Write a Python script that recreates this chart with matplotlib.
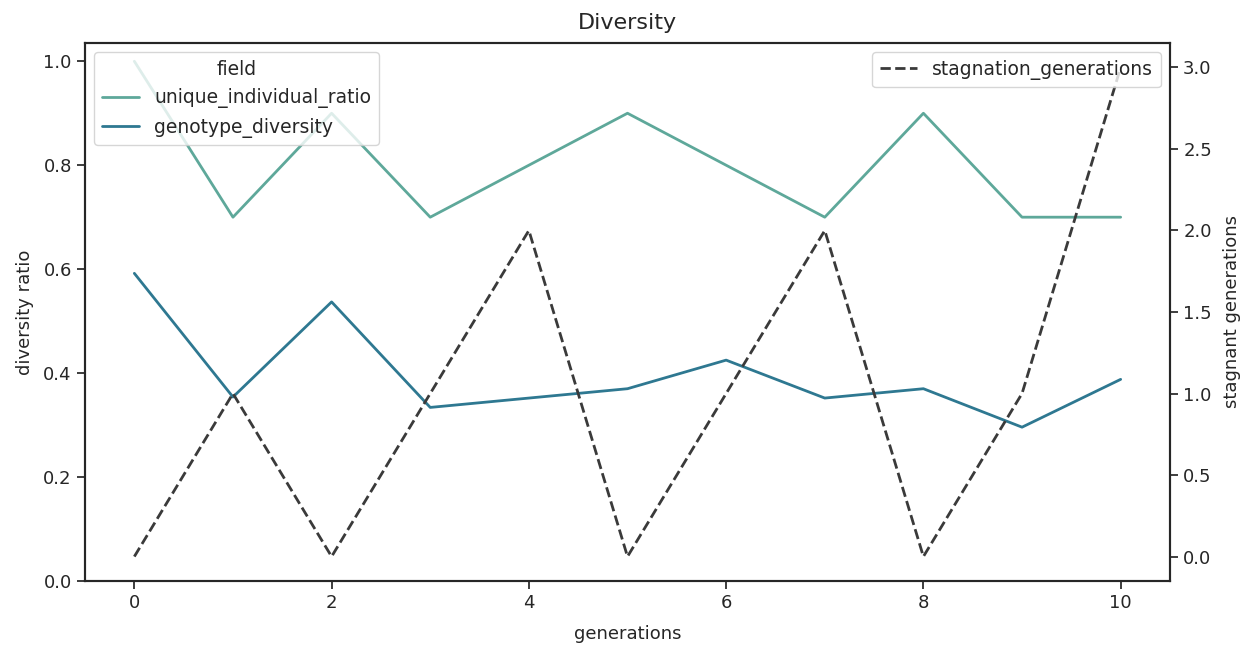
import matplotlib
matplotlib.use("Agg")
import matplotlib.pyplot as plt
import seaborn as sns

sns.set_theme(style="ticks")
plt.rcParams['font.family'] = ['DejaVu Sans']

generations = [0, 1, 2, 3, 4, 5, 6, 7, 8, 9, 10]
unique_individual_ratio = [1.0, 0.7, 0.9, 0.7, 0.8, 0.9, 0.8, 0.7, 0.9, 0.7, 0.7]
genotype_diversity = [0.592, 0.354, 0.537, 0.334, 0.352, 0.370, 0.425, 0.352, 0.370, 0.296, 0.388]
stagnation_generations = [0, 1, 0, 1, 2, 0, 1, 2, 0, 1, 3]

fig = plt.figure(figsize=(12.54, 6.56), dpi=100)
ax = fig.add_axes([0.0678, 0.1143, 0.8652, 0.8202])

ax.plot(generations, unique_individual_ratio, color="#5ea89a", lw=2, label="unique_individual_ratio")
ax.plot(generations, genotype_diversity, color="#2e7891", lw=2, label="genotype_diversity")
ax.set_ylim(0, None)
ax.set_xlabel("generations", fontsize=13, labelpad=9)
ax.set_ylabel("diversity ratio", fontsize=13, labelpad=7)
ax.set_title("Diversity", fontsize=16, pad=10)
ax.tick_params(labelsize=13)
ax.legend(title="field", loc="upper left", fontsize=13.5, title_fontsize=13.5)

ax2 = ax.twinx()
ax2.plot(generations, stagnation_generations, color="#3a3a3a", lw=2, ls="--", label="stagnation_generations")
ax2.set_ylabel("stagnant generations", fontsize=13, labelpad=8)
ax2.tick_params(labelsize=13)
ax2.legend(loc="upper right", fontsize=13.5)

for a in (ax, ax2):
    for s in a.spines.values():
        s.set_color("#262626")
        s.set_linewidth(1.5)

fig.savefig("out.png", dpi=100)
